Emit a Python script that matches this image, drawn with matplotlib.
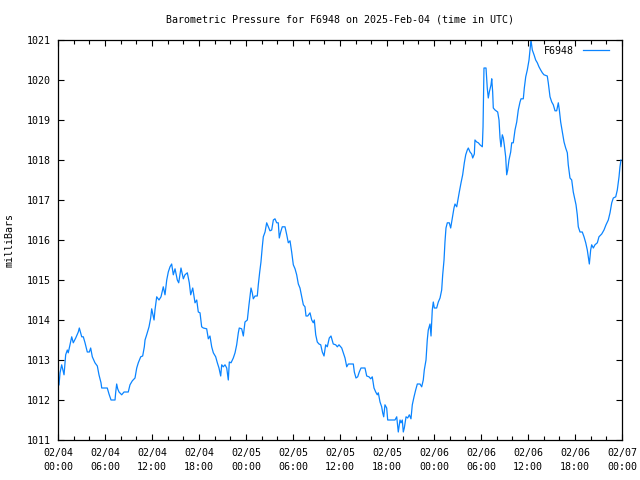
import matplotlib
matplotlib.use("Agg")
import matplotlib.pyplot as plt
from matplotlib.ticker import MultipleLocator, FixedLocator

title = "Barometric Pressure for F6948 on 2025-Feb-04 (time in UTC)"
series_name = "F6948"
y_label = "milliBars"

# hours since 2025-02-04 00:00 UTC
hours = [
    0.13, 0.26, 0.47, 0.77, 0.98, 1.19, 1.31, 1.53, 1.75, 1.95, 2.26, 2.59, 2.72, 3.03, 3.23, 3.45,
    3.74, 4.00, 4.17, 4.38, 4.72, 5.02, 5.23, 5.49, 5.58, 6.29, 6.51, 6.77, 7.28, 7.37, 7.49, 7.62,
    7.79, 8.13, 8.43, 8.97, 9.19, 9.49, 9.83, 10.05, 10.25, 10.56, 10.81, 11.02,
    11.11, 11.32, 11.62, 11.83, 11.96, 12.26, 12.38, 12.60, 12.89, 13.15, 13.44, 13.66, 13.88, 14.08,
    14.30, 14.51, 14.72, 14.94, 15.23, 15.41, 15.70, 16.00, 16.21, 16.51, 16.76, 16.94, 17.20, 17.49,
    17.71, 17.91, 18.13, 18.34, 18.55, 18.98, 19.19, 19.40, 19.62, 19.83, 20.13, 20.34, 20.55, 20.77,
    20.90, 21.10, 21.32, 21.54, 21.74, 21.87, 22.09, 22.38, 22.60,
    22.81, 23.02, 23.14, 23.45, 23.66, 23.87, 24.17, 24.38, 24.51, 24.64, 24.80, 24.93, 25.15, 25.44,
    25.57, 25.75, 25.91, 26.08, 26.21, 26.43, 26.64, 26.85, 27.06, 27.28, 27.49, 27.70, 27.92, 28.12,
    28.25, 28.43, 28.63, 28.98, 29.20, 29.40, 29.62, 29.83, 30.04, 30.26, 30.47, 30.68, 30.89, 31.11,
    31.32, 31.53, 31.66, 31.88, 32.17, 32.39, 32.59, 32.72, 32.90, 33.10, 33.32, 33.54, 33.74, 33.96,
    34.17, 34.38, 34.63, 34.85,
    35.14, 35.45, 35.66, 35.87, 36.22, 36.42, 36.64, 36.86, 37.06, 37.70, 37.83, 38.04, 38.26, 38.46,
    38.68, 39.19, 39.41, 39.70, 39.92, 40.12, 40.34, 40.56, 40.76, 40.89, 41.11, 41.32, 41.45, 41.58,
    41.74, 41.96, 42.09, 43.02, 43.24, 43.37, 43.44, 43.66, 43.79, 43.95, 44.08, 44.21, 44.43, 44.64,
    44.85, 45.06, 45.23, 45.45, 45.66, 45.87, 46.21, 46.43, 46.63,
    46.76, 46.98, 47.14, 47.27, 47.49, 47.62, 47.78, 47.91, 48.04, 48.34, 48.55, 48.77, 48.98, 49.11,
    49.28, 49.40, 49.53, 49.70, 49.95, 50.13, 50.34, 50.55, 50.68, 50.90, 51.03, 51.23, 51.45, 51.66,
    51.87, 52.05, 52.25, 52.38, 52.60, 52.81, 52.94, 53.15, 53.23, 53.45, 53.66, 53.87, 54.17, 54.26,
    54.38, 54.64, 54.80, 54.93, 55.06, 55.28, 55.37, 55.49, 55.57, 55.79, 56.13, 56.30, 56.43, 56.55,
    56.72, 56.85, 56.97, 57.15, 57.28, 57.41, 57.57, 57.79, 57.92, 58.12,
    58.34, 58.56, 58.76, 58.98, 59.11, 59.40, 59.53, 59.71, 59.91, 60.13, 60.26, 60.38, 60.55, 60.77,
    60.98, 61.19, 61.40, 61.62, 61.83, 62.04, 62.46, 62.59, 62.81, 63.03, 63.23, 63.45, 63.66, 63.87,
    64.00, 64.17, 64.38, 64.60, 64.81, 65.02, 65.14, 65.36, 65.58, 65.78, 66.00, 66.13, 66.29, 66.42,
    66.64, 66.93, 67.15, 67.37, 67.57, 67.70, 67.83, 68.00, 68.13, 68.34, 68.55, 68.85, 69.06, 69.41,
    69.70, 69.96, 70.25, 70.47, 70.69, 70.89, 71.20, 71.40, 71.62, 71.74, 71.87,
]

pressure = [
    1012.38, 1012.68, 1012.88, 1012.63, 1013.13, 1013.25, 1013.18, 1013.38, 1013.58, 1013.43, 1013.55,
    1013.70, 1013.80, 1013.58, 1013.58, 1013.43, 1013.20, 1013.20, 1013.30, 1013.08, 1012.93, 1012.85,
    1012.63, 1012.43, 1012.30, 1012.30, 1012.15, 1012.00, 1012.00, 1012.20, 1012.40, 1012.28, 1012.20,
    1012.13, 1012.20, 1012.20, 1012.38, 1012.48, 1012.55, 1012.80, 1012.93, 1013.08, 1013.10, 1013.33,
    1013.50, 1013.63, 1013.83, 1014.05, 1014.28, 1014.00, 1014.25, 1014.58, 1014.50, 1014.58, 1014.83,
    1014.63, 1015.00, 1015.20, 1015.33, 1015.40, 1015.13, 1015.28, 1015.00, 1014.93, 1015.30, 1015.03,
    1015.13, 1015.18, 1014.93, 1014.63, 1014.80, 1014.43, 1014.50, 1014.20, 1014.18, 1013.83, 1013.80,
    1013.78, 1013.53, 1013.60, 1013.33, 1013.18, 1013.08, 1012.93, 1012.80, 1012.60, 1012.88, 1012.83,
    1012.88, 1012.80, 1012.50, 1012.95, 1012.93, 1013.05, 1013.18,
    1013.38, 1013.68, 1013.80, 1013.78, 1013.60, 1013.95, 1014.00, 1014.38, 1014.58, 1014.80, 1014.68,
    1014.53, 1014.60, 1014.60, 1014.88, 1015.20, 1015.45, 1015.83, 1016.08, 1016.20, 1016.43, 1016.33,
    1016.23, 1016.25, 1016.50, 1016.53, 1016.43, 1016.43, 1016.05, 1016.20, 1016.33, 1016.33, 1016.13,
    1015.93, 1015.98, 1015.70, 1015.38, 1015.28, 1015.13, 1014.90, 1014.80, 1014.58, 1014.38, 1014.33,
    1014.10, 1014.10, 1014.18, 1014.00, 1013.93, 1014.00, 1013.63, 1013.45, 1013.40, 1013.38, 1013.20,
    1013.10, 1013.38, 1013.33, 1013.55, 1013.60,
    1013.40, 1013.38, 1013.33, 1013.38, 1013.30, 1013.18, 1013.05, 1012.83, 1012.90, 1012.90, 1012.70,
    1012.55, 1012.58, 1012.70, 1012.80, 1012.80, 1012.60, 1012.58, 1012.53, 1012.58, 1012.30, 1012.20,
    1012.13, 1012.18, 1011.95, 1011.83, 1011.68, 1011.58, 1011.88, 1011.80, 1011.50, 1011.50, 1011.58,
    1011.33, 1011.20, 1011.50, 1011.43, 1011.50, 1011.20, 1011.30, 1011.58, 1011.55, 1011.63, 1011.53,
    1011.88, 1012.08, 1012.25, 1012.40, 1012.40, 1012.33, 1012.50,
    1012.75, 1013.00, 1013.50, 1013.75, 1013.90, 1013.60, 1014.25, 1014.45, 1014.30, 1014.30, 1014.45,
    1014.55, 1014.75, 1015.13, 1015.50, 1015.95, 1016.30, 1016.43, 1016.43, 1016.30, 1016.55, 1016.80,
    1016.90, 1016.83, 1016.98, 1017.20, 1017.43, 1017.63, 1017.93, 1018.13, 1018.25, 1018.30, 1018.20,
    1018.15, 1018.05, 1018.15, 1018.50, 1018.45, 1018.43, 1018.38, 1018.33, 1018.83, 1020.30, 1020.30,
    1019.80, 1019.55, 1019.70, 1019.88, 1020.03, 1019.70, 1019.30, 1019.25, 1019.20, 1019.00, 1018.55,
    1018.33, 1018.63, 1018.55, 1018.38, 1018.08, 1017.63, 1017.75, 1018.00, 1018.20, 1018.43, 1018.43,
    1018.75, 1018.95, 1019.25, 1019.45, 1019.53, 1019.53, 1019.80, 1020.08, 1020.25, 1020.50, 1020.75,
    1021.00, 1020.75, 1020.63, 1020.50, 1020.43, 1020.33, 1020.25, 1020.18, 1020.13, 1020.10, 1019.93,
    1019.58, 1019.45, 1019.38, 1019.23, 1019.23, 1019.43, 1019.25, 1018.95, 1018.70, 1018.45, 1018.30,
    1018.18, 1017.88, 1017.55, 1017.50, 1017.20, 1017.00, 1016.88, 1016.63, 1016.33, 1016.20, 1016.20,
    1016.08, 1015.93, 1015.75, 1015.58, 1015.40, 1015.75, 1015.88, 1015.80, 1015.88, 1015.93, 1016.08,
    1016.15, 1016.25, 1016.38, 1016.50, 1016.68, 1016.93, 1017.05, 1017.08, 1017.25, 1017.58, 1017.83,
    1018.00,
]

xtick_hours = [0, 6, 12, 18, 24, 30, 36, 42, 48, 54, 60, 66, 72]
xtick_labels = ["02/04\n00:00", "02/04\n06:00", "02/04\n12:00", "02/04\n18:00",
                "02/05\n00:00", "02/05\n06:00", "02/05\n12:00", "02/05\n18:00",
                "02/06\n00:00", "02/06\n06:00", "02/06\n12:00", "02/06\n18:00",
                "02/07\n00:00"]
yticks = [1011, 1012, 1013, 1014, 1015, 1016, 1017, 1018, 1019, 1020, 1021]

plt.rcParams['font.family'] = ['DejaVu Sans Mono']
FS = 7.2

W, H = 640, 480
fig = plt.figure(figsize=(W / 100, H / 100), dpi=100)
ax = fig.add_axes([58 / W, 40 / H, 564 / W, 400 / H])

ax.plot(hours, pressure, color='#0a84ff', lw=0.9, label=series_name)

ax.set_xlim(0, 72)
ax.set_ylim(1011, 1021)
ax.xaxis.set_major_locator(FixedLocator(xtick_hours))
ax.set_xticklabels(xtick_labels, fontsize=FS, linespacing=1.45)
ax.xaxis.set_minor_locator(MultipleLocator(2))
ax.set_yticks(yticks)
ax.set_yticklabels([str(v) for v in yticks], fontsize=FS)

ax.tick_params(axis='both', which='major', direction='in', length=4.5, width=0.8,
               top=True, right=True, color='black')
ax.tick_params(axis='x', which='minor', direction='in', length=3, width=0.8,
               top=True, bottom=True)
ax.tick_params(axis='x', which='major', pad=6)
ax.tick_params(axis='y', which='major', pad=5)
for s in ax.spines.values():
    s.set_linewidth(0.9)

fig.text(340 / W, 1 - 20 / H, title, ha='center', va='center', fontsize=FS)
fig.text(10 / W, 0.5, y_label, ha='center', va='center', rotation=90, fontsize=FS)

leg = ax.legend(loc='upper right', bbox_to_anchor=(1.0 - 7 / 564, 1.0), frameon=False,
                markerfirst=False, fontsize=FS, handlelength=2.6, handletextpad=0.9,
                borderaxespad=0.2)

fig.savefig('out.png', dpi=100)
